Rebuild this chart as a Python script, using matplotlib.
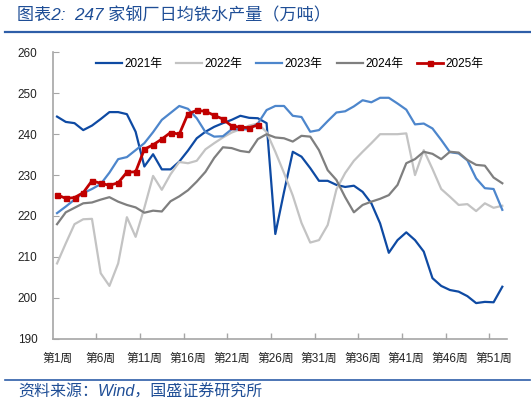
"""
Script to plot daily hot metal output of 247 steel mills, by week, 2021-2025.
"""

import matplotlib
matplotlib.use("Agg")
import matplotlib.pyplot as plt
from matplotlib.lines import Line2D
from matplotlib.ticker import FixedLocator

plt.rcParams['font.family'] = ['Liberation Sans', 'Noto Sans CJK SC']

# Weekly values (万吨)
y2021 = [244.3, 243.0, 242.7, 241.0, 242.1, 243.7, 245.4, 245.4, 244.9, 240.6,
         232.1, 235.1, 231.4, 231.4, 233.3, 236.0, 239.0, 240.6, 241.8, 242.7,
         243.5, 244.5, 244.0, 243.9, 242.7, 215.6, 225.9, 235.7, 234.5, 231.7,
         228.6, 228.6, 227.6, 227.1, 227.4, 225.9, 223.1, 218.2, 211.0, 214.1,
         216.0, 214.1, 211.3, 204.8, 202.9, 201.9, 201.5, 200.4, 198.7, 199.0,
         198.9, 202.7]
y2022 = [208.4, 213.3, 218.0, 219.2, 219.3, 206.0, 202.9, 208.4, 219.7, 214.9,
         222.0, 229.8, 226.4, 230.2, 233.2, 232.9, 233.5, 236.3, 237.8, 239.2,
         240.4, 241.2, 242.1, 242.6, 240.5, 235.7, 230.5, 225.0, 218.3, 213.5,
         214.1, 217.8, 226.5, 230.5, 233.5, 235.7, 237.8, 240.0, 240.0, 240.0,
         240.2, 230.0, 236.1, 231.5, 226.6, 224.7, 222.7, 222.9, 221.2, 223.1,
         222.0, 222.5]
y2023 = [220.7, 222.3, 224.0, 225.6, 226.6, 227.8, 230.6, 233.9, 234.4, 236.1,
         237.8, 240.5, 243.5, 245.2, 246.9, 246.2, 243.9, 240.5, 239.4, 239.5,
         241.2, 241.2, 241.2, 242.6, 245.9, 246.9, 246.9, 244.5, 244.2, 240.6,
         241.0, 243.2, 245.3, 245.6, 246.8, 248.3, 247.8, 248.9, 248.9, 247.5,
         246.0, 242.4, 242.6, 241.4, 238.6, 235.6, 235.3, 233.6, 229.2, 226.8,
         226.6, 221.5]
y2024 = [218.0, 220.9, 222.0, 223.1, 223.3, 224.0, 224.6, 223.5, 222.7, 222.1,
         220.8, 221.3, 221.1, 223.6, 224.8, 226.3, 228.4, 230.8, 234.2, 236.8,
         236.6, 235.9, 235.6, 238.8, 240.0, 239.2, 239.0, 238.2, 239.6, 239.4,
         236.1, 231.2, 228.8, 224.6, 220.9, 222.7, 223.5, 224.2, 225.1, 227.6,
         232.9, 233.9, 235.7, 235.2, 233.9, 235.7, 235.5, 233.7, 232.5, 232.3,
         229.4, 228.0]
y2025 = [225.2, 224.3, 224.5, 225.7, 228.6, 228.0, 227.5, 228.1, 230.7, 230.8,
         236.3, 237.4, 238.8, 240.4, 240.0, 245.0, 245.8, 245.6, 244.6, 243.7,
         242.0, 241.7, 241.6, 242.2]

labels = ['2021年', '2022年', '2023年', '2024年', '2025年']
label_weeks = list(range(1, 52, 5))
week_labels = [f'第{w}周' for w in label_weeks]
y_ticks = [190, 200, 210, 220, 230, 240, 250, 260]

title = '图表2:  247 家钢厂日均铁水产量（万吨）'
source = '资料来源：Wind，国盛证券研究所'


def main():
    fig = plt.figure(figsize=(5.31, 4.03), dpi=100)
    ax = fig.add_axes([0.0992, 0.1596, 0.855, 0.7104])

    series = [y2021, y2022, y2023, y2024]
    colors = ['#0e4aa3', '#c3c3c3', '#4d86cc', '#7f7f7f']
    for vals, c, lab in zip(series, colors, labels[:4]):
        weeks = range(1, len(vals) + 1)
        ax.plot(weeks, vals, color=c, lw=1.6, label=lab)

    weeks = range(1, len(y2025) + 1)
    ax.plot(weeks, y2025, color='#c00000', lw=2.0, marker='s',
            markersize=3.6, label=labels[4], zorder=5)

    ax.set_xlim(0.5, 52.5)
    ax.set_ylim(190, 260)
    ax.set_yticks(y_ticks)
    ax.set_xticks(label_weeks)
    ax.set_xticklabels(week_labels)
    ax.xaxis.set_minor_locator(FixedLocator([w + 4.5 for w in label_weeks[:-1]]))

    for s in ['top', 'right']:
        ax.spines[s].set_visible(False)
    for s in ['left', 'bottom']:
        ax.spines[s].set_color('#a6a6a6')
        ax.spines[s].set_linewidth(1.2)

    ax.tick_params(axis='x', which='major', length=0, pad=10, labelsize=8.5,
                   colors='#222222')
    ax.tick_params(axis='x', which='minor', direction='in', length=4,
                   color='#a6a6a6', width=1)
    ax.tick_params(axis='y', direction='in', length=4, color='#a6a6a6',
                   pad=11, labelsize=8.5, labelcolor='#222222')

    ax.legend(loc='center', bbox_to_anchor=(0.522, 0.96), ncol=5,
              frameon=False, fontsize=8.5, handlelength=2.2,
              handletextpad=0.2, columnspacing=1.2)

    # header, footer and the blue rules
    fig.text(17 / 531, 1 - 15 / 403, title, fontsize=12.3, color='#1f4e96',
             style='italic', va='center', ha='left')
    fig.add_artist(Line2D([5 / 531, 530 / 531], [1 - 32 / 403, 1 - 32 / 403],
                          color='#2e5ea8', lw=1.6))
    fig.add_artist(Line2D([5 / 531, 530 / 531], [1 - 380 / 403, 1 - 380 / 403],
                          color='#2e5ea8', lw=1.2))
    fig.text(18 / 531, 1 - 392 / 403, source, fontsize=11.5, color='#1f4e96',
             style='italic', va='center', ha='left')

    fig.savefig('out.png', dpi=100)
    plt.close(fig)


if __name__ == "__main__":
    main()
